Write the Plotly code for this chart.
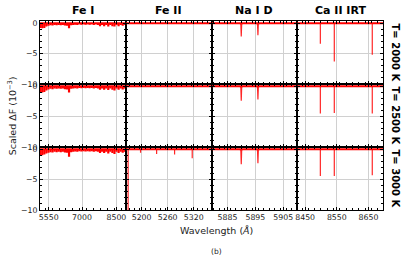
import plotly.graph_objects as go
from plotly.subplots import make_subplots

temps = ["T= 2000 K", "T= 2500 K", "T= 3000 K"]
species = ["Fe I", "Fe II", "Na I D", "Ca II IRT"]
x_ranges = [[5169, 8907], [5163.5, 5361], [5879.3, 5910], [8425, 8696]]
x_ticks = [[5550, 7000, 8500], [5200, 5260, 5320], [5885, 5895, 5905], [8450, 8550, 8650]]
x_minor = [300, 12, 2, 20]
y_ticks = [0, -5, -10]
y_range = [-10, 0.35]

fe1_wave = [5175, 5265, 5355, 5445, 5535, 5625, 5715, 5805, 5895, 5985, 6075,
            6165, 6255, 6345, 6435, 6525, 6615, 6705, 6795, 6885, 6975, 7065,
            7155, 7245, 7335, 7425, 7515, 7605, 7695, 7785, 7875, 7965, 8055,
            8145, 8235, 8325, 8415, 8505, 8595, 8685, 8775, 8865, 8905]
fe1_depth = [
    [-0.8, -0.85, -0.8, -0.55, -0.45, -0.35, -0.4, -0.3, -0.35, -0.3, -0.35,
     -0.3, -0.4, -0.45, -0.85, -0.35, -0.3, -0.25, -0.3, -0.2, -0.25, -0.2,
     -0.25, -0.2, -0.25, -0.2, -0.3, -0.2, -0.3, -0.5, -0.3, -0.5, -0.3,
     -0.55, -0.3, -0.5, -0.55, -0.3, -0.5, -0.3, -0.45, -0.3, -0.25],
    [-1.0, -1.05, -0.95, -0.7, -0.55, -0.45, -0.5, -0.4, -0.45, -0.4, -0.45,
     -0.4, -0.5, -0.55, -1.05, -0.45, -0.4, -0.35, -0.4, -0.3, -0.35, -0.3,
     -0.35, -0.3, -0.35, -0.3, -0.4, -0.3, -0.4, -0.6, -0.4, -0.6, -0.4,
     -0.65, -0.4, -0.6, -0.7, -0.4, -0.6, -0.4, -0.55, -0.4, -0.35],
    [-0.95, -1.0, -0.9, -0.7, -0.6, -0.5, -0.55, -0.45, -0.5, -0.45, -0.5,
     -0.45, -0.55, -0.6, -1.25, -0.5, -0.45, -0.4, -0.45, -0.35, -0.4, -0.35,
     -0.4, -0.35, -0.4, -0.35, -0.45, -0.35, -0.45, -0.65, -0.45, -0.65, -0.45,
     -0.7, -0.45, -0.65, -0.8, -0.45, -0.65, -0.45, -0.6, -0.45, -0.4],
]

fe2_centers = [5169.0, 5197.6, 5234.6, 5276.0, 5316.6]
fe2_depth = [[0, 0, 0, 0, 0],
             [-0.1, 0, 0, 0, 0],
             [-10.5, -0.6, -0.8, -0.9, -1.5]]
na_centers = [5889.95, 5895.92]
na_depth = [[-2.2, -2.0], [-2.4, -2.2], [-2.5, -2.3]]
ca_centers = [8498.0, 8542.1, 8662.1]
ca_depth = [[-3.4, -6.3, -5.2], [-4.5, -4.4, -4.5], [-4.4, -4.4, -4.3]]

RED = "#ff0000"
FONT = "DejaVu Sans"
TICK_SIZE = 7.8

fig = make_subplots(rows=3, cols=4, horizontal_spacing=0, vertical_spacing=0)


def spikes(centers, depths, wing=None):
    xs, ys = [], []
    for c, d in zip(centers, depths):
        if d == 0:
            continue
        if wing:
            xs += [c - wing, c - wing * 0.25, c, c + wing * 0.25, c + wing, None]
            ys += [0, -0.2, d, -0.2, 0, None]
        else:
            xs += [c, c, None]
            ys += [0, d, None]
    return xs, ys


for r in range(3):
    # Fe I dense spectrum: vertical spikes from the continuum
    xs, ys = spikes(fe1_wave, fe1_depth[r])
    fig.add_trace(go.Scatter(x=xs, y=ys, mode="lines",
                             line=dict(color=RED, width=2.2),
                             showlegend=False, hoverinfo="skip"), row=r + 1, col=1)
    panels = [(fe2_centers, fe2_depth[r], None),
              (na_centers, na_depth[r], 0.6),
              (ca_centers, ca_depth[r], None)]
    for ci, (cen, dep, wing) in enumerate(panels):
        col = ci + 2
        xs, ys = spikes(cen, dep, wing)
        fig.add_trace(go.Scatter(x=xs, y=ys, mode="lines",
                                 line=dict(color="rgba(255,0,0,0.85)", width=1.2),
                                 showlegend=False, hoverinfo="skip"), row=r + 1, col=col)
    for c in range(4):
        fig.add_trace(go.Scatter(x=x_ranges[c], y=[0, 0], mode="lines",
                                 line=dict(color=RED, width=2),
                                 showlegend=False, hoverinfo="skip"), row=r + 1, col=c + 1)

for r in range(3):
    for c in range(4):
        fig.update_xaxes(range=x_ranges[c], tickvals=x_ticks[c], showticklabels=(r == 2),
                         ticks="inside", ticklen=3, tickcolor="black", mirror="ticks",
                         showline=True, linecolor="black", linewidth=1, automargin=False,
                         showgrid=True, gridcolor="#d0d0d0", gridwidth=1, zeroline=False,
                         minor=dict(ticks="inside", ticklen=2, dtick=x_minor[c],
                                    tickcolor="black", showgrid=False),
                         tickfont=dict(family=FONT, size=TICK_SIZE, color="#222"),
                         row=r + 1, col=c + 1)
        fig.update_yaxes(range=y_range, tickvals=y_ticks, ticktext=["0", "\u22125", "\u221210"],
                         showticklabels=(c == 0), automargin=False,
                         ticks="inside", ticklen=3, tickcolor="black", mirror="ticks",
                         showline=True, linecolor="black", linewidth=1,
                         showgrid=True, gridcolor="#d0d0d0", gridwidth=1, zeroline=False,
                         minor=dict(ticks="inside", ticklen=2, dtick=1,
                                    tickcolor="black", showgrid=False),
                         tickfont=dict(family=FONT, size=TICK_SIZE, color="#222"),
                         row=r + 1, col=c + 1)

ann = []
for c, s in enumerate(species):
    ann.append(dict(text="<b>%s</b>" % s, x=(c + 0.5) / 4, y=1.056, xref="paper", yref="paper",
                    showarrow=False, font=dict(family=FONT, size=11, color="black"),
                    xanchor="center", yanchor="middle"))
for r, t in enumerate(temps):
    ann.append(dict(text="<b>%s</b>" % t, x=1.035, y=1 - (r + 0.5) / 3, xref="paper", yref="paper",
                    showarrow=False, textangle=90, font=dict(family=FONT, size=10, color="black"),
                    xanchor="center", yanchor="middle"))
ann.append(dict(text="Scaled \u0394F (10<sup>\u22123</sup>)", x=-0.082, y=0.5, xref="paper", yref="paper",
                showarrow=False, textangle=-90, font=dict(family=FONT, size=9.5, color="#222"),
                xanchor="center", yanchor="middle"))
ann.append(dict(text="Wavelength (<i>\u00c5</i>)", x=0.516, y=-0.106, xref="paper", yref="paper",
                showarrow=False, font=dict(family=FONT, size=9.5, color="#222"),
                xanchor="center", yanchor="middle"))
ann.append(dict(text="(b)", x=0.516, y=-0.217, xref="paper", yref="paper",
                showarrow=False, font=dict(family=FONT, size=7.5, color="#222"),
                xanchor="center", yanchor="middle"))

fig.update_layout(width=407, height=263, margin=dict(l=40, r=24, t=21, b=53, autoexpand=False),
                  plot_bgcolor="white", paper_bgcolor="white", annotations=ann,
                  showlegend=False)

# remove the page's default body margin so the figure sits at the window origin
fig.write_html("out.html", config={"displayModeBar": False},
               post_script="document.body.style.margin='0px';document.body.style.padding='0px';")
